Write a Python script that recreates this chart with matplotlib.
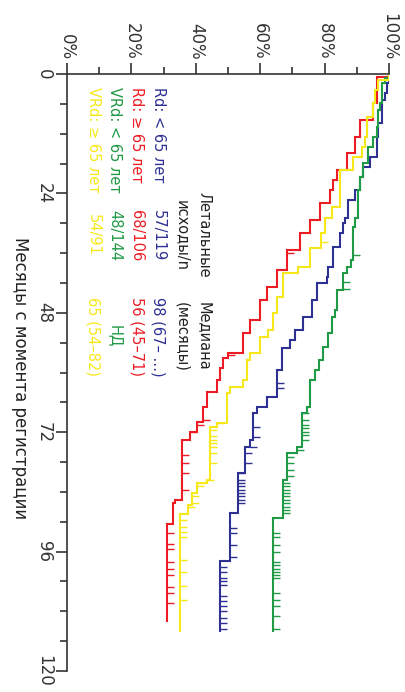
import matplotlib
matplotlib.use("Agg")
import matplotlib.pyplot as plt
import numpy as np

# Kaplan-Meier, rotated layout: x = survival %, y = months (downwards)

# Rd: < 65
blue_t = [0, 1.8, 3.8, 5.2, 9.8, 12.7, 16.7, 18.7, 20.7, 23.3, 25.3, 28.9, 30, 32, 34.8, 38.8, 40.8,
          42, 45.4, 48.8, 51.5, 53.5, 55, 59.5, 64.9, 66.9, 68.1, 73.6, 75, 80.2, 88.2, 97.9]
blue_s = [100, 99.4, 98.8, 97.8, 96.6, 96.3, 94.1, 91.9, 91, 89.4, 87.3, 86.3, 85.7, 84.8, 82.6, 81, 80.7,
          77.6, 76, 73.3, 70.8, 69.3, 66.8, 65.2, 62.1, 59, 57.8, 56.8, 55.3, 53.1, 50.6, 47.5]
blue_end = 112
blue_cens = [62.2, 63.2, 70.9, 72.9, 74.9, 76.2, 78.2, 80.2, 81.6, 82.2, 82.9, 83.6, 84.2, 84.9, 85.6,
             86.3, 91.3, 92.3, 94.7, 97, 99, 100, 101.3, 102, 102.7, 105, 106, 107, 108, 109.3, 110.3, 111.6]

# Rd: >= 65
red_t = [0, 0.6, 5.8, 9.2, 12.7, 15.9, 19.3, 21.3, 23.3, 25.9, 29.3, 32, 35.4, 39.4, 42.8, 45.4, 49.4,
         52, 56, 57, 59, 61.5, 64, 67, 70, 72, 73.5, 85.6, 86.3, 90.5]
red_s = [100, 96.3, 95, 91, 89.4, 87, 83.9, 82.6, 81.7, 78.6, 75.5, 72.4, 68.3, 65.2, 62.1, 60, 56.8,
         54.7, 50, 48.5, 47.5, 46.6, 43.5, 42.2, 40.4, 38.2, 35.7, 33.5, 32.9, 31]
red_end = 110
red_cens = [36, 56.5, 69.5, 70.5, 72, 76.6, 78.2, 80.2, 83.6, 92.3, 94.5, 95.5, 98, 99.5, 100.7,
            103.1, 104.3, 106.3]

# VRd: < 65
green_t = [0, 0.8, 1.8, 5.8, 7.2, 10.6, 12.7, 14.7, 17.9, 20.7, 23.3, 28.9, 30.8, 37.4, 38.8, 40,
           43.4, 47.4, 48.8, 52, 54.8, 57.5, 59.5, 61.5, 66.9, 68.1, 75, 76.2, 81.6, 89.2]
green_s = [100, 98.8, 97.8, 97.2, 96.6, 96.3, 95, 93.5, 91.9, 91.1, 90.4, 89.4, 88.8, 88.2, 86.9, 85.7,
           83.8, 83.2, 82.3, 81, 79.5, 78.2, 77, 75.5, 74.5, 73, 71.4, 68.3, 67, 64]
green_end = 112
green_cens = [36.4, 41.8, 43.2, 68.2, 69.5, 70.5, 71.2, 71.9, 72.5, 73.5, 75.5, 76.9, 78.2, 79.5, 80.9,
              82.2, 82.9, 83.6, 84.2, 84.9, 85.6, 86.3, 87, 87.6, 88.3, 92.3, 93, 94.7, 96, 98, 98.7,
              99.4, 100, 100.7, 101.3, 104.3, 105.7, 107, 109, 111.6]

# VRd: >= 65
yel_t = [0, 1.2, 3.2, 5.8, 8.6, 12.7, 14.7, 16.7, 19.3, 26.8, 28.9, 32, 35, 38.8, 40, 44.8, 48,
         51.5, 52.9, 56, 57.5, 61.5, 63, 64.1, 70.2, 71, 81.6, 82.2, 84.2, 86.6, 88.5]
yel_s = [100, 96.6, 95.7, 95, 93.2, 92.5, 91.6, 88.8, 84.8, 82.3, 80, 79, 75.5, 71.7, 67, 65.2, 63.9,
         62.4, 60, 56.8, 55.9, 54.7, 50.6, 49.7, 46.6, 44.4, 43.5, 40.4, 38.8, 37.6, 35.1]
yel_end = 112
yel_cens = [33.7, 70.2, 71.5, 72.8, 73.5, 74.2, 74.9, 76.2, 78.2, 81.6, 82.2, 82.9, 84.9, 86.2, 87,
            89.6, 91, 92, 93, 97.7, 100, 103, 105.7]

groups = ["Rd: < 65 лет", "Rd: ≥ 65 лет", "VRd: < 65 лет", "VRd: ≥ 65 лет"]
deaths = ["57/119", "68/106", "48/144", "54/91"]
medians = ["98 (67– …)", "56 (45–71)", "НД", "65 (54–82)"]
colors = ["#2e3192", "#ed1c24", "#1f9a45", "#f7e81a"]

curves = [(blue_t, blue_s, blue_end, blue_cens),
          (red_t, red_s, red_end, red_cens),
          (green_t, green_s, green_end, green_cens),
          (yel_t, yel_s, yel_end, yel_cens)]

pct_ticks = [0, 20, 40, 60, 80, 100]
month_ticks = [0, 24, 48, 72, 96, 120]

fig = plt.figure(figsize=(4.05, 6.92), dpi=100)
ax = fig.add_axes([67/405, 1 - 671/692, 322/405, 597/692])

for (t, s, t_end, cens), col in zip(curves, colors):
    t = np.array(t, dtype=float)
    s = np.array(s, dtype=float)
    xs = np.repeat(s, 2)
    ys = np.repeat(np.append(t, t_end), 2)[1:-1]
    ax.plot(xs, ys, color=col, lw=1.5, solid_joinstyle="miter")
    # censor marks
    c = np.array(cens, dtype=float)
    sc = s[np.searchsorted(t, c, side="right") - 1]
    ax.hlines(c, sc, sc + 2.2, color=col, lw=1.0)

ax.set_xlim(0, 100)
ax.set_ylim(120, 0)

for side in ["right", "bottom"]:
    ax.spines[side].set_visible(False)
for side in ["top", "left"]:
    ax.spines[side].set_color("#333333")
    ax.spines[side].set_linewidth(1.2)

ax.xaxis.tick_top()
ax.set_xticks(pct_ticks)
ax.set_xticklabels([f"{p}%" for p in pct_ticks], rotation=-90)
ax.set_xticks(np.arange(10, 100, 20), minor=True)
ax.set_yticks(month_ticks)
ax.set_yticklabels([str(m) for m in month_ticks], rotation=-90, va="center")
ax.set_yticks(np.arange(6, 120, 6), minor=True)
ax.tick_params(which="major", length=8, width=1.2, color="#333333",
               labelsize=12, labelcolor="#333333", pad=2)
ax.tick_params(which="minor", length=5, width=1.2, color="#333333")

# legend / table text
xpos = [28.3, 21.7, 14.9, 8.1]
for g, d, m, col, x in zip(groups, deaths, medians, colors, xpos):
    ax.text(x, 2.6, g, color=col, rotation=-90, ha="center", va="top", fontsize=10.5)
    ax.text(x, 32.4, d, color=col, rotation=-90, ha="center", va="center", fontsize=10.5)
    ax.text(x, 52.8, m, color=col, rotation=-90, ha="center", va="center", fontsize=10.5)

ax.text(42.5, 32.4, "Летальные", rotation=-90, ha="center", va="center", fontsize=10.5, color="#222222")
ax.text(35.7, 32.4, "исходы/n", rotation=-90, ha="center", va="center", fontsize=10.5, color="#222222")
ax.text(42.5, 52.8, "Медиана", rotation=-90, ha="center", va="center", fontsize=10.5, color="#222222")
ax.text(35.7, 52.8, "(месяцы)", rotation=-90, ha="center", va="center", fontsize=10.5, color="#222222")

fig.text(20/405, 1 - 378/692, "Месяцы с момента регистрации", rotation=-90,
         ha="center", va="center", fontsize=12, color="#222222")

fig.savefig("out.png", dpi=100)
